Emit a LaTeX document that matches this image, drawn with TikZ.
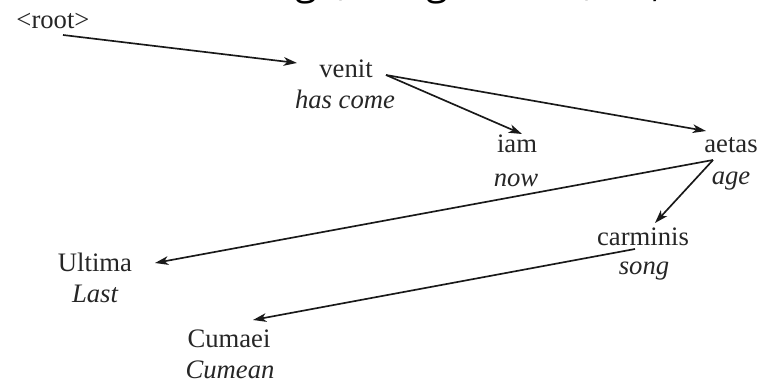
\documentclass[tikz,border=0pt]{standalone}
\usepackage{fontspec}
\setmainfont{Liberation Serif}
\newfontfamily\headfont{Open Sans}
\usetikzlibrary{arrows.meta}
\begin{document}
\begin{tikzpicture}[x=0.75pt,y=-0.75pt,
  word/.style={anchor=base,inner sep=0pt,outer sep=0pt,text=black!85,
    font=\fontsize{20}{24}\selectfont},
  gloss/.style={word,font=\fontsize{20}{24}\selectfont\itshape},
  headglyph/.style={anchor=base,inner sep=0pt,font=\headfont\fontsize{30}{36}\selectfont},
  link/.style={-{Stealth[length=10pt,width=6.5pt,inset=2.8pt]},line width=1.25pt,black!90}]
\useasboundingbox (0,0) rectangle (760,381);

% bottom edge of the heading line above the tree
\begin{scope}
  \clip (0,0) rectangle (760,8);
  \node[headglyph] (h1) at (231,-6) {(};
  \node[headglyph] (h2) at (306,-5) {g};
  \node[headglyph] (h3) at (343,-4) {,};
  \node[headglyph] (h4) at (437,-5) {g};
  \node[headglyph] (h5) at (589,-4) {,};
  \node[headglyph] (h6) at (657,-3) {,};
\end{scope}

% words with their glosses
\node[word]  (root)      at (53,29)   {<root>};
\node[word]  (venit)     at (346,78)  {venit};
\node[gloss] (venitgl)   at (345,109) {has come};
\node[word]  (iam)       at (517,152) {iam};
\node[gloss] (iamgl)     at (516,186) {now};
\node[word]  (aetas)     at (731,152) {aetas};
\node[gloss] (aetasgl)   at (731,185) {age};
\node[word]  (carminis)  at (643,245) {carminis};
\node[gloss] (carminisgl) at (644,274) {song};
\node[word]  (ultima)    at (95,271)  {Ultima};
\node[gloss] (ultimagl)  at (95,302)  {Last};
\node[word]  (cumaei)    at (229,347) {Cumaei};
\node[gloss] (cumaeigl)  at (230,378) {Cumean};

% attachment points of the dependency arcs
\coordinate (root-out)     at (63,35);
\coordinate (venit-in)     at (297,63);
\coordinate (venit-out)    at (386,75);
\coordinate (iam-in)       at (522,134);
\coordinate (aetas-in)     at (706,131);
\coordinate (aetas-out)    at (713,160);
\coordinate (carminis-in)  at (655,223);
\coordinate (carminis-out) at (635,249);
\coordinate (ultima-in)    at (155,263);
\coordinate (cumaei-in)    at (253,320);

% dependency arcs
\draw[link] (root-out) -- (venit-in);
\draw[link] (venit-out) -- (iam-in);
\draw[link] (venit-out) -- (aetas-in);
\draw[link] (aetas-out) -- (ultima-in);
\draw[link] (aetas-out) -- (carminis-in);
\draw[link] (carminis-out) -- (cumaei-in);
\end{tikzpicture}
\end{document}
